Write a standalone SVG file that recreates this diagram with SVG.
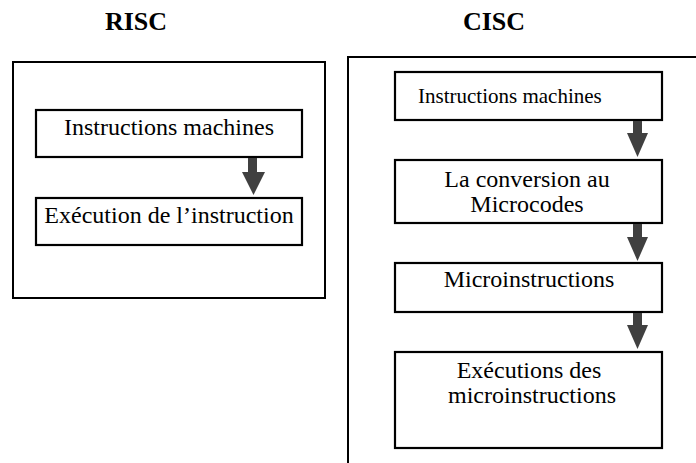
<svg xmlns="http://www.w3.org/2000/svg" width="696" height="463" viewBox="0 0 696 463">
  <style>
    .frame { fill: none; stroke: #000; stroke-width: 2; }
    .box { fill: #fff; stroke: #000; stroke-width: 2.2; }
    .title { font-family: "Liberation Serif", "Times New Roman", serif; font-weight: bold; font-size: 26px; fill: #000; text-anchor: middle; }
    .label { font-family: "Liberation Serif", "Times New Roman", serif; font-size: 24px; fill: #000; text-anchor: middle; }
    .small { font-size: 21px; text-anchor: start; }
    .arrow { fill: #404040; }
  </style>

  <rect width="696" height="463" fill="#fff"/>

  <!-- column titles -->
  <text class="title" x="136" y="30">RISC</text>
  <text class="title" x="494" y="30">CISC</text>

  <!-- outer frames -->
  <g id="risc-frame">
    <rect class="frame" x="13" y="62" width="312" height="236"/>
  </g>
  <g id="cisc-frame">
    <path class="frame" d="M348,470 V57 H700"/>
  </g>

  <!-- RISC flow -->
  <g id="risc-instr">
    <rect class="box" x="36" y="110" width="266" height="47"/>
    <text class="label" x="169" y="135">Instructions machines</text>
  </g>
  <g id="risc-exec">
    <rect class="box" x="36" y="198" width="266" height="47"/>
    <text class="label" x="169" y="223">Exécution de l’instruction</text>
  </g>

  <!-- CISC flow -->
  <g id="cisc-instr">
    <rect class="box" x="395" y="72" width="267" height="48"/>
    <text class="label small" x="418" y="103">Instructions machines</text>
  </g>
  <g id="cisc-conv">
    <rect class="box" x="395" y="160" width="267" height="63"/>
    <text class="label" x="527" y="187">La conversion au</text>
    <text class="label" x="527" y="212">Microcodes</text>
  </g>
  <g id="cisc-micro">
    <rect class="box" x="395" y="263" width="267" height="49"/>
    <text class="label" x="529" y="287">Microinstructions</text>
  </g>
  <g id="cisc-exec">
    <rect class="box" x="395" y="352" width="267" height="96"/>
    <text class="label" x="529" y="378">Exécutions des</text>
    <text class="label" x="532" y="403">microinstructions</text>
  </g>

  <!-- block arrows between steps -->
  <g id="connectors">
    <polygon class="arrow" points="248,158 257,158 257,172 265,172 253.5,195 242,172 248,172"/>
    <polygon class="arrow" points="633,121 642,121 642,133 648,133 637.5,157 627,133 633,133"/>
    <polygon class="arrow" points="633,224 642,224 642,237 648,237 637.5,261 627,237 633,237"/>
    <polygon class="arrow" points="633,313 642,313 642,325 648,325 637.5,349 627,325 633,325"/>
  </g>
</svg>
